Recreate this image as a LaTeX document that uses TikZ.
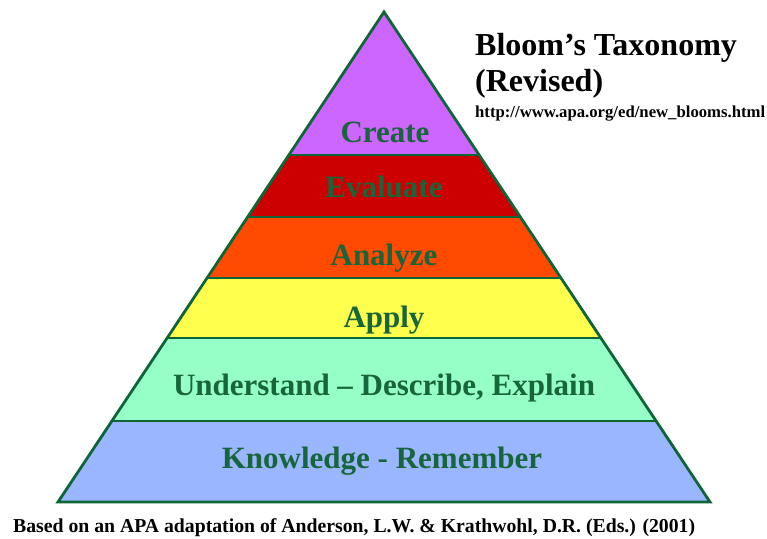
\documentclass[tikz,border=0pt]{standalone}
\usepackage{fontspec}
\usepackage{graphicx}
\setmainfont{Liberation Serif}
\definecolor{outl}{HTML}{0E6638}
\definecolor{txt}{HTML}{17653A}
\definecolor{cCreate}{HTML}{CC66FF}
\definecolor{cEval}{HTML}{CC0000}
\definecolor{cAnal}{HTML}{FF4A00}
\definecolor{cApply}{HTML}{FFFF4D}
\definecolor{cUnder}{HTML}{96FFC8}
\definecolor{cKnow}{HTML}{99B6FF}
\begin{document}
\begin{tikzpicture}[x=1pt,y=-1pt,
  layer/.style={draw=outl,line width=2.8pt,line join=miter},
  lbl/.style={anchor=base,text=txt,inner sep=0pt,font=\fontsize{31}{31}\selectfont\bfseries},
  ttl/.style={anchor=base west,inner sep=0pt,text=black,font=\fontsize{32}{32}\selectfont\bfseries}]
\useasboundingbox[fill=white] (0,0) rectangle (767,538);
% layers
\fill[cKnow]   (58,502) -- (710,502) -- (656.1,421) -- (111.9,421) -- cycle;
\fill[cUnder]  (111.9,421) -- (656.1,421) -- (600.9,338) -- (167.1,338) -- cycle;
\fill[cApply]  (167.1,338) -- (600.9,338) -- (561.0,278) -- (207.0,278) -- cycle;
\fill[cAnal]   (207.0,278) -- (561.0,278) -- (520.4,217) -- (247.6,217) -- cycle;
\fill[cEval]   (247.6,217) -- (520.4,217) -- (479.1,155) -- (288.9,155) -- cycle;
\fill[cCreate] (288.9,155) -- (479.1,155) -- (384,12) -- cycle;
\draw[layer] (111.9,421) -- (656.1,421);
\draw[layer] (167.1,338) -- (600.9,338);
\draw[layer] (207.0,278) -- (561.0,278);
\draw[layer] (247.6,217) -- (520.4,217);
\draw[layer] (288.9,155) -- (479.1,155);
\draw[layer] (58,502) -- (710,502) -- (384,12) -- cycle;
% labels
\node[lbl] (create) at (385,142) {Create};
\node[lbl] (evaluate) at (384,197) {Evaluate};
\node[lbl] (analyze) at (384,265) {Analyze};
\node[lbl] (apply) at (384,327) {Apply};
\node[lbl] (understand) at (384,395) {Understand – Describe, Explain};
\node[lbl] (knowledge) at (382,468) {Knowledge - Remember};
% title
\node[ttl] (title1) at (475,55) {Bloom’s Taxonomy};
\node[ttl] (title2) at (475,91) {(Revised)};
\node[anchor=base west,inner sep=0pt] (url) at (475,117) {\resizebox{290pt}{!}{\fontsize{13}{13}\selectfont\bfseries http://www.apa.org/ed/new\_blooms.html}};
\node[anchor=base west,inner sep=0pt] (foot) at (13,532) {\resizebox{682pt}{!}{\fontsize{20}{20}\selectfont\bfseries Based on an APA adaptation of Anderson, L.W. \& Krathwohl, D.R. (Eds.) (2001)}};
\end{tikzpicture}
\end{document}
